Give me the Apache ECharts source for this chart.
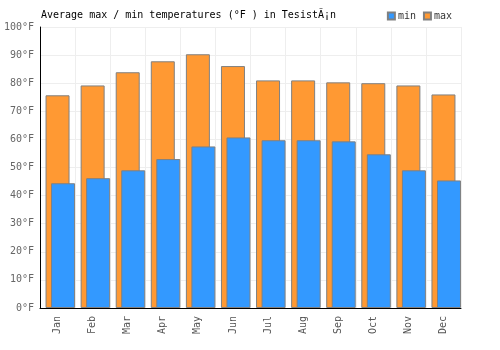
<!DOCTYPE html>
<html>
<head>
<meta charset="utf-8">
<script src="https://cdn.jsdelivr.net/npm/echarts@6/dist/echarts.min.js"></script>
<style>
	html, body { margin: 0; padding: 0; background: #fff; }
	#chart { width: 500px; height: 350px; }
</style>
</head>
<body>
<div id="chart"></div>
<script>
	var months = ['Jan', 'Feb', 'Mar', 'Apr', 'May', 'Jun', 'Jul', 'Aug', 'Sep', 'Oct', 'Nov', 'Dec'];
	var maxTemps = [75.7, 79.2, 83.9, 87.8, 90.3, 86.1, 81.0, 81.0, 80.3, 80.0, 79.2, 76.0];
	var minTemps = [44.4, 46.2, 49.0, 53.0, 57.5, 60.7, 59.7, 59.7, 59.3, 54.7, 49.0, 45.4];
	var titleText = 'Average max / min temperatures (°F ) in TesistÃ¡n';

	var font = 'DejaVu Sans Mono';
	var chart = echarts.init(document.getElementById('chart'));
	// empty slot on the left so max sits centred and min shifts right
	var spacer = months.map(function () { return '-'; });

	var option = {
		backgroundColor: '#fff',
		animation: false,
		title: {
			text: titleText,
			left: 36,
			top: 5,
			textStyle: {
				fontFamily: font,
				fontSize: 10,
				fontWeight: 'normal',
				color: '#000'
			}
		},
		legend: {
			data: ['min', 'max'],
			icon: 'rect',
			right: 43,
			top: 6,
			itemWidth: 7,
			itemHeight: 7,
			itemGap: 7,
			textStyle: {
				fontFamily: font,
				fontSize: 10,
				color: '#333',
				padding: [0, 0, 0, -2]
			}
		},
		grid: {
			left: 40,
			right: 39,
			top: 27,
			bottom: 42
		},
		xAxis: {
			type: 'category',
			data: months,
			axisLine: { lineStyle: { color: '#000' } },
			axisTick: { show: false },
			axisLabel: {
				rotate: 90,
				color: '#555',
				fontFamily: font,
				fontSize: 10,
				margin: 8
			},
			splitLine: { show: true, interval: 0, lineStyle: { color: '#eee' } }
		},
		yAxis: {
			type: 'value',
			min: 0,
			max: 100,
			interval: 10,
			axisLine: { show: true, lineStyle: { color: '#000' } },
			axisTick: { show: false },
			axisLabel: {
				color: '#666',
				fontFamily: font,
				fontSize: 10,
				margin: 6,
				formatter: '{value}°F'
			},
			splitLine: { lineStyle: { color: '#eee' } }
		},
		series: [{
			name: 'spacer',
			type: 'bar',
			data: spacer,
			barWidth: 24,
			barGap: '-77%',
			silent: true
		}, {
			name: 'max',
			type: 'bar',
			data: maxTemps,
			barWidth: 24,
			barGap: '-77%',
			itemStyle: { color: '#ff9933', borderColor: '#808080', borderWidth: 1 }
		}, {
			name: 'min',
			type: 'bar',
			data: minTemps,
			barWidth: 24,
			barGap: '-77%',
			itemStyle: { color: '#3399ff', borderColor: '#808080', borderWidth: 1 }
		}]
	};
	chart.setOption(option);
</script>
</body>
</html>
